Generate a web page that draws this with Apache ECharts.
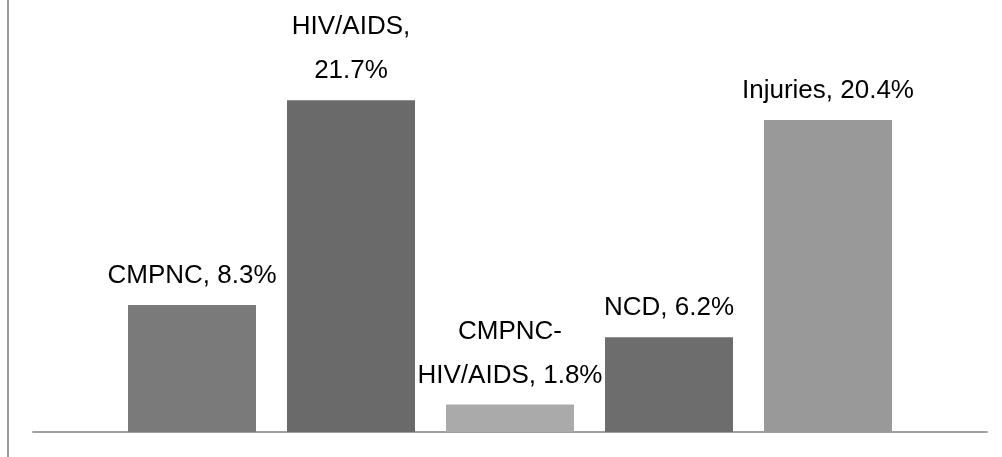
<!DOCTYPE html>
<html>
<head>
<meta charset="utf-8">
<script src="https://cdn.jsdelivr.net/npm/echarts@6/dist/echarts.min.js"></script>
<style>
html, body { margin: 0; padding: 0; background: #fff; }
#frame { position: absolute; left: 7px; top: 0; width: 995px; height: 457px; border-left: 2px solid #9a9a9a; }
#chart { position: absolute; left: -9px; top: 0; width: 1002px; height: 457px; }
</style>
</head>
<body>
<div id="frame"><div id="chart"></div></div>
<script>
// causes of death, share of total
const categories = ["CMPNC", "HIV/AIDS", "CMPNC-HIV/AIDS", "NCD", "Injuries"];
const values = [8.3, 21.7, 1.8, 6.2, 20.4];
const labelText = ["CMPNC, ", "HIV/AIDS,\n", "CMPNC-\nHIV/AIDS, ", "NCD, ", "Injuries, "];
const barColors = ["#7a7a7a", "#6a6a6a", "#aaaaaa", "#6d6d6d", "#999999"];

// empty slot either side so the bars sit on the inner ticks
let xData = [""].concat(categories, [""]);
let seriesData = [null];
for (let i in values) {
  seriesData.push({
    value: values[i],
    itemStyle: { color: barColors[i] },
  });
}
seriesData.push(null);

let myChart = echarts.init(document.getElementById("chart"));
let option = {
  animation: false,
  grid: { left: 33, right: 15, top: 65, bottom: 25 },
  xAxis: {
    type: "category",
    data: xData,
    boundaryGap: false,
    axisLine: { lineStyle: { color: "#a0a0a0", width: 2 } },
    axisTick: { show: false },
    axisLabel: { show: false },
  },
  yAxis: {
    type: "value",
    min: 0,
    max: 24,
    show: false,
  },
  series: [
    {
      type: "bar",
      barWidth: 128,
      data: seriesData,
      label: {
        show: true,
        position: "top",
        distance: 7,
        color: "#000",
        fontFamily: "Liberation Sans",
        fontSize: 26,
        lineHeight: 44,
        formatter: function (p) {
          return labelText[p.dataIndex - 1] + p.value.toFixed(1) + "%";
        },
      },
    },
  ],
};
myChart.setOption(option);
</script>
</body>
</html>
